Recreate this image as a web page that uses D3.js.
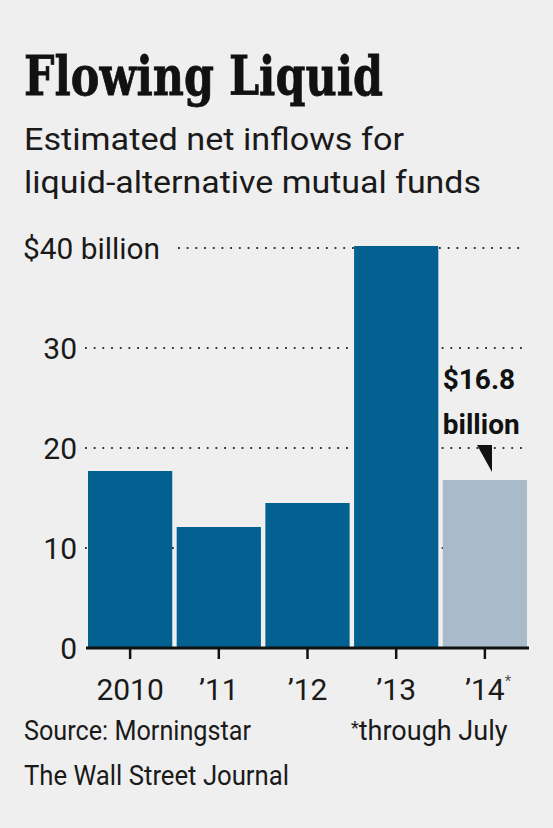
<!DOCTYPE html>
<html><head><meta charset="utf-8">
<script src="https://cdn.jsdelivr.net/npm/d3@7"></script>
<style>html,body{margin:0;padding:0;background:#efefef;}svg{display:block;}</style>
</head><body>
<script>
const categories = ["2010", "\u201911", "\u201912", "\u201913", "\u201914"];
const values = [17.7, 12.1, 14.5, 40.2, 16.8];
const partial = [false, false, false, false, true];
const tickValues = [0, 10, 20, 30, 40];
const tickLabels = ["0", "10", "20", "30", "$40 billion"];

const W = 553, H = 828;
const svg = d3.select("body").append("svg").attr("width", W).attr("height", H);
svg.append("rect").attr("width", W).attr("height", H).attr("fill", "#efefef");

const sans = "Roboto, 'Noto Sans', sans-serif";
function fit(sel, w) { sel.attr("textLength", w).attr("lengthAdjust", "spacingAndGlyphs"); return sel; }

// Title
fit(svg.append("text").attr("x", 24).attr("y", 95)
  .attr("font-family", "'DejaVu Serif', serif").attr("font-weight", "bold")
  .attr("font-size", 54).attr("fill", "#111").attr("stroke", "#111").attr("stroke-width", 0.8)
  .text("Flowing Liquid"), 359);
fit(svg.append("text").attr("x", 24).attr("y", 150).attr("font-family", sans)
  .attr("font-size", 31).attr("fill", "#1a1a1a").text("Estimated net inflows for"), 380);
fit(svg.append("text").attr("x", 24).attr("y", 193).attr("font-family", sans)
  .attr("font-size", 31).attr("fill", "#1a1a1a").text("liquid-alternative mutual funds"), 457);

const x = d3.scaleBand().domain(categories).range([88, 527]).paddingInner(0.05).paddingOuter(0);
const y = d3.scaleLinear().domain([0, 40]).range([648, 248]);

// gridlines
svg.append("g").selectAll("line").data(tickValues.filter(d => d > 0)).join("line")
  .attr("x1", d => d === 40 ? 178 : 85).attr("x2", 525)
  .attr("y1", d => y(d)).attr("y2", d => y(d))
  .attr("stroke", "#333").attr("stroke-width", 2)
  .attr("stroke-dasharray", "1.8 6.9");

// y labels
svg.append("g").selectAll("text").data(tickValues).join("text")
  .attr("x", d => d === 40 ? 23 : 77)
  .attr("y", d => y(d) + 11)
  .attr("text-anchor", d => d === 40 ? "start" : "end")
  .attr("font-family", sans).attr("font-size", 30).attr("fill", "#1a1a1a")
  .text((d, i) => tickLabels[i])
  .each(function(d) { if (d === 40) fit(d3.select(this), 137); });

// bars
svg.append("g").selectAll("rect").data(values).join("rect")
  .attr("x", (d, i) => x(categories[i]))
  .attr("width", x.bandwidth())
  .attr("y", d => y(d))
  .attr("height", d => y(0) - y(d))
  .attr("fill", (d, i) => partial[i] ? "#a9bbca" : "#036192");

// x axis
const xAxis = svg.append("g").attr("transform", `translate(0,${y(0)})`)
  .call(d3.axisBottom(x).tickSize(11).tickSizeOuter(0).tickFormat(""));
xAxis.select(".domain").attr("d", "M86,0H529").attr("stroke", "#111").attr("stroke-width", 3);
xAxis.selectAll(".tick line").attr("stroke", "#111").attr("stroke-width", 2.5);

svg.append("g").selectAll("text").data(categories).join("text")
  .attr("x", d => x(d) + x.bandwidth() / 2)
  .attr("y", 700).attr("text-anchor", "middle")
  .attr("font-family", sans).attr("font-size", 30).attr("fill", "#1a1a1a")
  .text(d => d);
svg.append("text").attr("x", x(categories[4]) + x.bandwidth() / 2 + 20).attr("y", 686)
  .attr("font-family", sans).attr("font-size", 15).attr("fill", "#555").text("*");

// annotation
const ax = x(categories[4]);
svg.append("text").attr("x", ax).attr("y", 389).attr("font-family", sans)
  .attr("font-weight", "bold").attr("font-size", 28).attr("fill", "#111").text("$16.8");
svg.append("text").attr("x", ax).attr("y", 434).attr("font-family", sans)
  .attr("font-weight", "bold").attr("font-size", 28).attr("fill", "#111").text("billion");
svg.append("path").attr("d", "M477,445 L492,445 L492,472 Z").attr("fill", "#111");

// footer
fit(svg.append("text").attr("x", 24).attr("y", 740).attr("font-family", sans)
  .attr("font-size", 27).attr("fill", "#1a1a1a").text("Source: Morningstar"), 227);
svg.append("text").attr("x", 351).attr("y", 740).attr("font-family", sans)
  .attr("font-size", 27).attr("fill", "#1a1a1a")
  .call(t => { t.append("tspan").attr("font-size", 18).attr("dy", -6).text("*");
               t.append("tspan").attr("dy", 6).text("through July"); });
fit(svg.append("text").attr("x", 24).attr("y", 785).attr("font-family", sans)
  .attr("font-size", 27).attr("fill", "#1a1a1a").text("The Wall Street Journal"), 265);
</script>
</body></html>
